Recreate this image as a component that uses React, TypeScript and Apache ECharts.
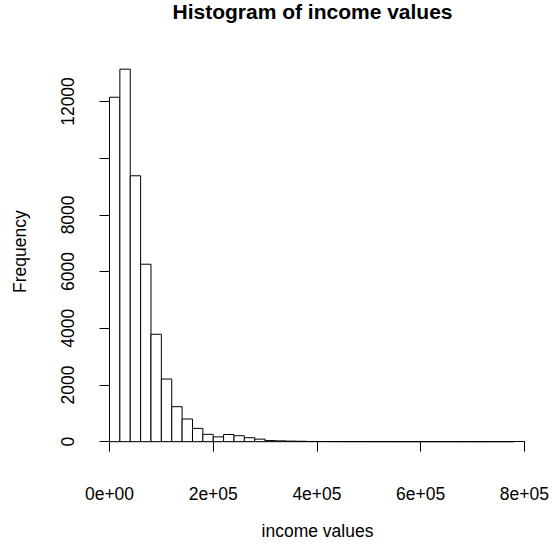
import React, { useEffect, useRef } from "react";
import * as echarts from "echarts";

// Histogram bins (width 20,000) and counts
const binWidth = 20000;
const counts = [
  12150, 13140, 9380, 6260, 3790, 2210, 1235, 800, 470, 260,
  170, 255, 210, 140, 90, 40, 30, 20, 15, 8,
  6, 5, 4, 3, 3, 2, 2, 2, 1, 1,
  1, 1, 1, 0, 1, 0, 0, 1, 1,
];

const xTickValues = [0, 200000, 400000, 600000, 800000];
const xTickLabels = ["0e+00", "2e+05", "4e+05", "6e+05", "8e+05"];
const yTickValues = [0, 2000, 4000, 6000, 8000, 10000, 12000];
const yTickLabels = ["0", "2000", "4000", "6000", "8000", "", "12000"];

const titleText = "Histogram of income values";
const xName = "income values";
const yName = "Frequency";

const FONT = "'Liberation Sans', Arial, sans-serif";

export default function App() {
  const ref = useRef<HTMLDivElement>(null);

  useEffect(() => {
    if (!ref.current) return;
    const chart = echarts.init(ref.current, null, { renderer: "svg" });
    const data = counts.map((c, i) => [i * binWidth, (i + 1) * binWidth, c]);

    chart.setOption({
      animation: false,
      backgroundColor: "#ffffff",
      grid: [
        { left: 109.5, right: 24.5, top: 44.8, bottom: 104.3 },
        { left: 109.5, right: 24.5, top: 101.5, bottom: 104.3 },
      ],
      xAxis: [
        {
          gridIndex: 0,
          type: "value",
          min: 0,
          max: 800000,
          interval: 200000,
          offset: 15,
          axisLine: { show: true, lineStyle: { color: "#000", width: 1 } },
          axisTick: { show: true, length: 10, lineStyle: { color: "#000", width: 1 } },
          axisLabel: {
            show: true,
            margin: 28,
            fontSize: 17.5,
            fontFamily: FONT,
            color: "#000",
            formatter: (v: number) => {
              const i = xTickValues.indexOf(v);
              return i >= 0 ? xTickLabels[i] : "";
            },
          },
          splitLine: { show: false },
        },
        { gridIndex: 1, type: "value", min: 0, max: 800000, show: false },
      ],
      yAxis: [
        { gridIndex: 0, type: "value", min: 0, max: 14000, show: false },
        {
          gridIndex: 1,
          type: "value",
          min: 0,
          max: 12000,
          interval: 2000,
          offset: 17,
          axisLine: { show: true, lineStyle: { color: "#000", width: 1 } },
          axisTick: { show: true, length: 10, lineStyle: { color: "#000", width: 1 } },
          axisLabel: {
            show: true,
            rotate: 90,
            margin: 16,
            fontSize: 17.5,
            fontFamily: FONT,
            color: "#000",
            formatter: (v: number) => {
              const i = yTickValues.indexOf(v);
              return i >= 0 ? yTickLabels[i] : "";
            },
          },
          splitLine: { show: false },
        },
      ],
      series: [
        {
          type: "custom",
          xAxisIndex: 0,
          yAxisIndex: 0,
          data,
          clip: false,
          renderItem: (params: any, api: any) => {
            const x0 = api.value(0);
            const x1 = api.value(1);
            const c = api.value(2);
            const p0 = api.coord([x0, 0]);
            const p1 = api.coord([x1, c]);
            return {
              type: "polygon",
              shape: {
                points: [
                  [p0[0], p0[1]],
                  [p0[0], p1[1]],
                  [p1[0], p1[1]],
                  [p1[0], p0[1]],
                ],
              },
              style: { fill: "#ffffff", stroke: "#000", lineWidth: 1 },
            };
          },
        },
      ],
      graphic: [
        {
          type: "text",
          x: 312.5,
          y: 11,
          style: {
            text: titleText,
            textAlign: "center",
            textVerticalAlign: "middle",
            font: `bold 21px ${FONT}`,
            fill: "#000",
          },
        },
        {
          type: "text",
          x: 317.5,
          y: 531,
          style: {
            text: xName,
            textAlign: "center",
            textVerticalAlign: "middle",
            font: `17.5px ${FONT}`,
            fill: "#000",
          },
        },
        {
          type: "text",
          x: 20,
          y: 251.7,
          rotation: Math.PI / 2,
          style: {
            text: yName,
            textAlign: "center",
            textVerticalAlign: "middle",
            font: `17.5px ${FONT}`,
            fill: "#000",
          },
        },
      ],
    });

    return () => chart.dispose();
  }, []);

  return (
    <div
      ref={ref}
      style={{ position: "fixed", left: 0, top: 0, width: 552, height: 546 }}
    />
  );
}
